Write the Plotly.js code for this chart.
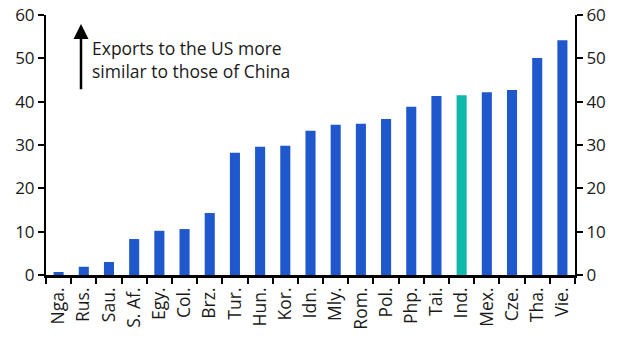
<!DOCTYPE html>
<html><head><meta charset="utf-8">
<script src="https://cdn.plot.ly/plotly-3.0.1.min.js"></script>
<style>body{margin:0;padding:0;}#chart{width:628px;height:357px;}</style>
</head><body><div id="chart"></div>
<script>
var categories = ["Nga.","Rus.","Sau.","S. Af.","Egy.","Col.","Brz.","Tur.","Hun.","Kor.","Idn.","Mly.","Rom.","Pol.","Php.","Tai.","Ind.","Mex.","Cze.","Tha.","Vie."];
var values = [0.7,1.9,3.0,8.3,10.2,10.6,14.3,28.2,29.6,29.8,33.3,34.7,34.9,36.0,38.8,41.3,41.5,42.2,42.7,50.1,54.2];
var highlight = "Ind.";
var yTicks = [0,10,20,30,40,50,60];

var colors = categories.map(function(c){ return c === highlight ? "#0eb8aa" : "#1f57cc"; });
var font = "'Open Sans', sans-serif";

var data = [
  {type:"bar", x:categories, y:values, marker:{color:colors}, width:0.4, hoverinfo:"none"},
  {type:"bar", x:categories, y:values.map(function(){return null;}), yaxis:"y2", hoverinfo:"none", showlegend:false}
];
var axisY = {range:[0,60], tickvals:yTicks, ticks:"outside", ticklen:6, tickwidth:2, tickcolor:"#000",
  showline:true, linecolor:"#000", linewidth:2, showgrid:false, zeroline:false,
  tickfont:{family:font, size:17, color:"#1a1a1a"}, fixedrange:true};
var layout = {
  width:628, height:357,
  margin:{l:46, r:53, t:15, b:82},
  paper_bgcolor:"#fff", plot_bgcolor:"#fff",
  showlegend:false,
  bargap:0.6,
  xaxis:{type:"category", range:[-0.5,20.5], tickangle:-90, ticks:"outside", tickson:"boundaries",
    ticklen:6, tickwidth:2, tickcolor:"#000", showline:true, linecolor:"#000", linewidth:2.5,
    showgrid:false, zeroline:false, ticklabelstandoff:3, tickfont:{family:font, size:17.5, color:"#1a1a1a"}},
  yaxis: Object.assign({side:"left"}, axisY),
  yaxis2: Object.assign({side:"right", overlaying:"y"}, axisY),
  annotations:[
    {xref:"paper", yref:"paper", x:(81-46)/529, y:(276-24)/261, ax:(81-46)/529, ay:(276-91)/261,
      axref:"paper", ayref:"paper", text:"", showarrow:true, arrowhead:2, arrowsize:1.2, arrowwidth:2.5, arrowcolor:"#000"},
    {xref:"paper", yref:"paper", x:(90-46)/529, y:(276-60)/261, xanchor:"left", yanchor:"middle", align:"left",
      text:"Exports to the US more<br>similar to those of China", showarrow:false,
      font:{family:font, size:17.5, color:"#1a1a1a"}}
  ]
};
Plotly.newPlot("chart", data, layout, {staticPlot:true, displayModeBar:false});
</script></body></html>
